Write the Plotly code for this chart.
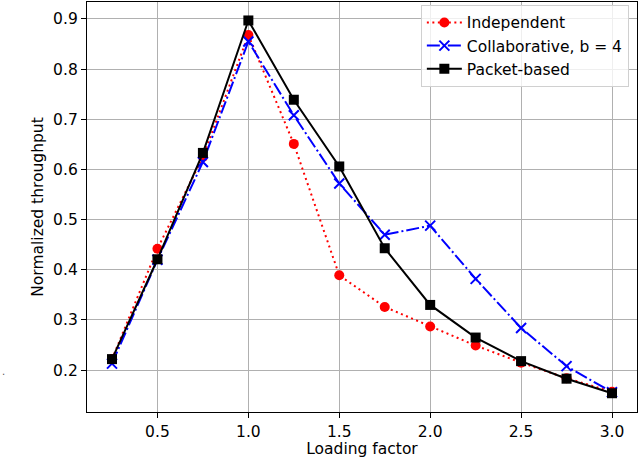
import plotly.graph_objects as go

loading = [0.25, 0.5, 0.75, 1.0, 1.25, 1.5, 1.75, 2.0, 2.25, 2.5, 2.75, 3.0]
independent = [0.222, 0.442, 0.625, 0.868, 0.651, 0.389, 0.326, 0.287, 0.249, 0.215, 0.184, 0.157]
collaborative = [0.213, 0.420, 0.615, 0.855, 0.708, 0.572, 0.470, 0.488, 0.382, 0.284, 0.208, 0.156]
packet = [0.222, 0.421, 0.633, 0.897, 0.739, 0.606, 0.443, 0.330, 0.265, 0.218, 0.183, 0.154]

xticks = [0.5, 1.0, 1.5, 2.0, 2.5, 3.0]
yticks = [0.2, 0.3, 0.4, 0.5, 0.6, 0.7, 0.8, 0.9]

font = "DejaVu Sans"
fs = 15.5

fig = go.Figure()
fig.add_trace(go.Scatter(
    x=loading, y=independent, name="Independent", mode="lines+markers",
    line=dict(color="red", width=2, dash="2px,3.5px"),
    marker=dict(symbol="circle", size=10, color="red"),
))
fig.add_trace(go.Scatter(
    x=loading, y=collaborative, name="Collaborative, b = 4", mode="lines+markers",
    line=dict(color="blue", width=2, dash="13px,3px,2px,3px"),
    marker=dict(symbol="x-thin", size=10, line=dict(color="blue", width=2), color="blue"),
))
fig.add_trace(go.Scatter(
    x=loading, y=packet, name="Packet-based", mode="lines+markers",
    line=dict(color="black", width=2),
    marker=dict(symbol="square", size=10, color="black"),
))

axis_common = dict(
    showline=True, linecolor="black", linewidth=1.3, mirror=True,
    ticks="outside", ticklen=5, tickwidth=1.1, tickcolor="black",
    showgrid=True, gridcolor="#b0b0b0", gridwidth=1.1,
    zeroline=False, automargin=False,
    tickfont=dict(family=font, size=fs, color="black"),
)

fig.update_layout(
    width=640, height=458,
    margin=dict(l=87, r=3, t=2, b=46),
    paper_bgcolor="white", plot_bgcolor="white",
    font=dict(family=font, size=fs, color="black"),
    xaxis=dict(range=[0.1125, 3.1375], tickvals=xticks,
               ticktext=[f"{v:.1f}" for v in xticks],
               title=dict(text="Loading factor", font=dict(family=font, size=fs), standoff=6),
               **axis_common),
    yaxis=dict(range=[0.1166, 0.9338], tickvals=yticks,
               ticktext=[f"{v:.1f}" for v in yticks],
               title=dict(text="Normalized throughput", font=dict(family=font, size=fs), standoff=5),
               **axis_common),
    legend=dict(x=0.607, y=0.993, xanchor="left", yanchor="top",
                bgcolor="rgba(255,255,255,0.8)", bordercolor="#d0d0d0", borderwidth=1,
                font=dict(family=font, size=fs, color="black"),
                itemwidth=35, tracegroupgap=0),
    showlegend=True,
    annotations=[dict(text=".", xref="paper", yref="paper", x=-0.158, y=0.1, xanchor="left",
                      yanchor="middle", showarrow=False, font=dict(family=font, size=10, color="#555555"))],
)

fig.write_html("out.html", config={"displayModeBar": False})

with open("out.html", "r", encoding="utf-8") as f:
    html = f.read()
html = html.replace("<body>", '<body style="margin:0;padding:0;overflow:hidden;">', 1)
with open("out.html", "w", encoding="utf-8") as f:
    f.write(html)
